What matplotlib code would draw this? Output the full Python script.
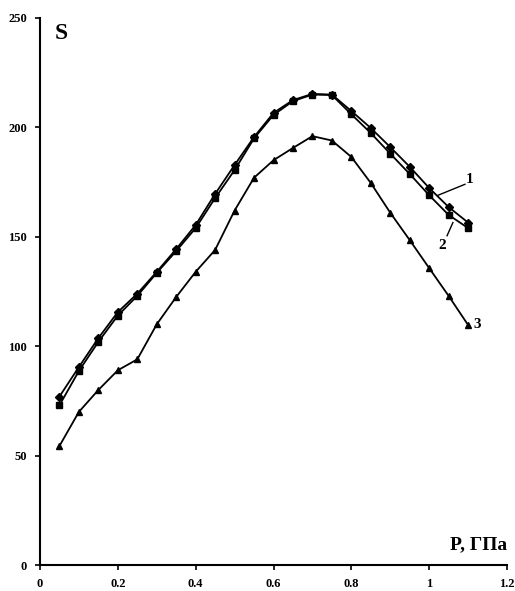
import matplotlib
matplotlib.use("Agg")
import matplotlib.pyplot as plt

P = [0.05, 0.1, 0.15, 0.2, 0.25, 0.3, 0.35, 0.4, 0.45, 0.5, 0.55,
     0.6, 0.65, 0.7, 0.75, 0.8, 0.85, 0.9, 0.95, 1.0, 1.05, 1.1]
S1 = [77, 90.5, 103.7, 115.6, 124, 134, 144.4, 155.4, 169.6, 182.8, 195.6,
      206.6, 212.5, 215.3, 215, 207.5, 199.7, 191, 182, 172.3, 163.6, 156.5]
S2 = [73, 88.7, 102, 114, 123, 133.5, 143.5, 154, 167.7, 180.5, 195,
      205.7, 212, 215, 214.8, 206, 197.4, 188, 178.7, 169, 160, 154]
S3 = [54.4, 70, 80, 89, 94, 110, 122.5, 134, 144, 162, 177,
      185, 190.6, 196, 194, 186.5, 174.6, 161, 148.5, 135.7, 123, 109.7]
xticks = [0, 0.2, 0.4, 0.6, 0.8, 1, 1.2]
xticklabels = ["0", "0.2", "0.4", "0.6", "0.8", "1", "1.2"]
yticks = [0, 50, 100, 150, 200, 250]

plt.rcParams['font.family'] = ['Liberation Serif', 'DejaVu Serif']
fig = plt.figure(figsize=(5.15, 5.91), dpi=100)
ax = fig.add_axes([40/515, 26/591, 467/515, 547/591])

ax.plot(P, S1, color='black', lw=1.3, marker='D', ms=4.5, mfc='black', mec='black')
ax.plot(P, S2, color='black', lw=1.3, marker='s', ms=5, mfc='black', mec='black')
ax.plot(P, S3, color='black', lw=1.3, marker='^', ms=5, mfc='black', mec='black')

ax.set_xlim(0, 1.2)
ax.set_ylim(0, 250)
ax.set_xticks(xticks)
ax.set_xticklabels(xticklabels)
ax.set_yticks(yticks)
for s in ['top', 'right']:
    ax.spines[s].set_visible(False)
for s in ['left', 'bottom']:
    ax.spines[s].set_linewidth(1.5)
ax.tick_params(direction='out', length=3.5, width=1.2, labelsize=9, pad=6)
for lab in ax.get_xticklabels() + ax.get_yticklabels():
    lab.set_fontweight('bold')

ax.text(0.032, 0.99, "S", transform=ax.transAxes, fontsize=17, fontweight='bold',
        ha='left', va='top')
ax.text(1.0, 0.022, "P, ГПа", transform=ax.transAxes, fontsize=14, fontweight='bold',
        ha='right', va='bottom')

# curve labels with leader lines
ax.plot([1.023, 1.092], [169, 174], color='black', lw=1)
ax.text(1.095, 176, "1", fontsize=11, fontweight='bold', ha='left', va='center')
ax.plot([1.061, 1.046], [156.5, 150.5], color='black', lw=1)
ax.text(1.033, 146, "2", fontsize=11, fontweight='bold', ha='center', va='center')
ax.text(1.115, 110, "3", fontsize=11, fontweight='bold', ha='left', va='center')

fig.savefig("out.png", dpi=100)
